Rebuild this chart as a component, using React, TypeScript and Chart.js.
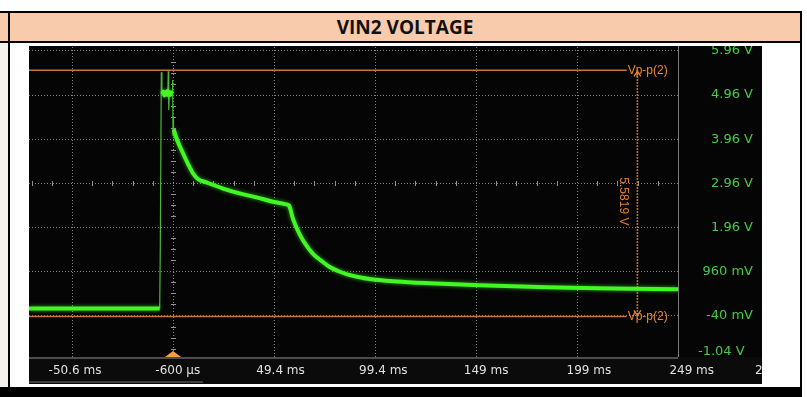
import React, { useEffect, useRef } from 'react';
import { Chart, registerables } from 'chart.js';

Chart.register(...registerables);

// ---- axis ranges (time in ms, voltage in V) ----
const X_MIN = -71.9;
const X_MAX = 249.4;
const Y_MIN = -0.981;
const Y_MAX = 6.05;
const X_LABEL_MIN = -72.98;
const X_LABEL_MAX = 242.73;
const Y_LABEL_SHIFT = 0.172;

const xGridValues = [-50.6, -0.6, 49.4, 99.4, 149.4, 199.4];
const xTickValues = [-50.6, -0.6, 49.4, 99.4, 149.4, 199.4, 249.4];
const xTickLabels = ['-50.6 ms', '-600 µs', '49.4 ms', '99.4 ms', '149 ms', '199 ms', '249 ms'];
const nextTickLabel = '299 ms';
const yGridValues = [5.96, 4.96, 3.96, 2.96, 1.96, 0.96, -0.04];
const yGridLabels = ['5.96 V', '4.96 V', '3.96 V', '2.96 V', '1.96 V', '960 mV', '-40 mV'];
const yEdgeValues = [-1.04];
const yEdgeLabels = ['-1.04 V'];
const centerTime = -0.6;
const centerVolt = 2.96;
const triggerTime = -0.6;

// ---- main (thick) trace, null = break ----
const traceTimes = [
  -71.9, -7.2, -7.2,
  -5.9, -5.4, -4.9, -4.4, -3.9, -3.4, -2.9, -2.4, -1.9, -1.4, -0.9, -0.9,
  -0.25, 1.1, 4.35, 6.8, 9.3, 11.8, 15.9, 24.2, 32.4, 40.7, 48.9, 55.5, 56.9,
  58.8, 62.1, 65.4, 68.7, 72.9, 77.0, 81.1, 85.2, 93.5, 100.1, 110, 126.5,
  151.2, 184.3, 217.2, 249.4,
];
const traceVolts = [
  0.12, 0.12, null,
  4.98, 5.04, 4.95, 5.03, 4.97, 5.05, 4.96, 5.03, 4.96, 5.02, 4.99, null,
  4.18, 3.98, 3.64, 3.4, 3.185, 3.055, 2.98, 2.84, 2.73, 2.64, 2.54, 2.48, 2.45,
  2.15, 1.8, 1.55, 1.36, 1.2, 1.06, 0.97, 0.9, 0.81, 0.77, 0.73, 0.69,
  0.645, 0.6, 0.575, 0.555,
];

// ---- thin fast edges ----
const edgeTimes = [-7.2, -6.9, -6.4, -6.1, -6.1, -3.2, -2.95, -2.7, -2.4, -2.4, -1.0, -0.8, -0.6, -0.45, -0.25];
const edgeVolts = [0.12, 1.5, 5.48, 5.0, null, 5.0, 5.5, 4.62, 5.0, null, 5.0, 5.3, 4.05, 4.45, 4.18];

// ---- cursors ----
const cursorHigh = 5.52;
const cursorLow = -0.06;
const cursorTime = 229.3;
const cursorLineEnd = 224;
const cursorLabel = 'Vp-p(2)';
const cursorValue = '5.5819 V';

const GRID = '#808080';
const ORANGE = '#c4743c';

const pts = (xs: number[], ys: (number | null)[]) => xs.map((x, i) => ({ x, y: ys[i] }));

const noPad = (s: any) => {
  s.paddingTop = 0;
  s.paddingBottom = 0;
  s.paddingLeft = 0;
  s.paddingRight = 0;
};

const scopePlugin = {
  id: 'scopeDecor',
  beforeDraw(chart: any) {
    const { ctx, width, height, chartArea: a } = chart;
    ctx.save();
    ctx.fillStyle = '#050505';
    ctx.fillRect(0, 0, width, height);
    ctx.fillStyle = '#0b0b0b';
    ctx.fillRect(0, a.bottom, width, height - a.bottom);
    ctx.restore();
  },
  beforeDatasetsDraw(chart: any) {
    const { ctx, chartArea: a, scales } = chart;
    const xs = scales.x;
    const ys = scales.y;
    ctx.save();
    ctx.strokeStyle = '#909090';
    ctx.lineWidth = 1;
    const cy = Math.round(ys.getPixelForValue(centerVolt)) + 0.5;
    const cx = Math.round(xs.getPixelForValue(centerTime)) + 0.5;
    ctx.beginPath();
    for (let k = -3; k <= 32; k++) {
      if (k % 5 === 0) continue;
      const px = Math.round(xs.getPixelForValue(xGridValues[0] + k * 10)) + 0.5;
      if (px < a.left || px > a.right) continue;
      ctx.moveTo(px, cy - 2.5);
      ctx.lineTo(px, cy + 2.5);
    }
    for (let k = -2; k <= 30; k++) {
      if (k % 4 === 0) continue;
      const py = Math.round(ys.getPixelForValue(yGridValues[0] - k * 0.25)) + 0.5;
      if (py < a.top || py > a.bottom) continue;
      ctx.moveTo(cx - 2.5, py);
      ctx.lineTo(cx + 2.5, py);
    }
    ctx.stroke();
    // frame
    ctx.strokeStyle = '#7a7a7a';
    ctx.beginPath();
    ctx.moveTo(a.right + 0.5, 0);
    ctx.lineTo(a.right + 0.5, a.bottom);
    ctx.stroke();
    ctx.strokeStyle = '#4c4c4c';
    ctx.lineWidth = 2;
    ctx.beginPath();
    ctx.moveTo(0, a.bottom + 1);
    ctx.lineTo(a.right, a.bottom + 1);
    ctx.stroke();
    // trigger marker
    const tx = xs.getPixelForValue(triggerTime);
    ctx.fillStyle = '#f4a236';
    ctx.beginPath();
    ctx.moveTo(tx - 8, a.bottom);
    ctx.lineTo(tx + 8, a.bottom);
    ctx.lineTo(tx, a.bottom - 6);
    ctx.closePath();
    ctx.fill();
    // scroll bar
    ctx.fillStyle = '#3e3e3e';
    ctx.fillRect(0, chart.height - 3, 174, 2);
    ctx.restore();
  },
  beforeDatasetDraw(chart: any, args: any) {
    if (args.index === 0) {
      chart.ctx.save();
      chart.ctx.shadowColor = 'rgba(70,255,40,0.6)';
      chart.ctx.shadowBlur = 4;
    }
  },
  afterDatasetDraw(chart: any, args: any) {
    if (args.index === 0) chart.ctx.restore();
  },
  afterDatasetsDraw(chart: any) {
    const { ctx, chartArea: a, scales } = chart;
    const xs = scales.x;
    const ys = scales.y;
    const hy = ys.getPixelForValue(cursorHigh);
    const ly = ys.getPixelForValue(cursorLow);
    const vx = xs.getPixelForValue(cursorTime);
    const lx = xs.getPixelForValue(cursorLineEnd);
    ctx.save();
    ctx.fillStyle = '#ec8a2e';
    ctx.font = '12px "Liberation Sans"';
    ctx.textAlign = 'left';
    ctx.textBaseline = 'middle';
    ctx.fillText(cursorLabel, lx + 1, hy);
    ctx.fillText(cursorLabel, lx + 1, ly);
    ctx.strokeStyle = '#ec8a2e';
    ctx.lineWidth = 1.2;
    ctx.beginPath();
    ctx.moveTo(vx - 3.5, ly - 6);
    ctx.lineTo(vx, ly - 1);
    ctx.lineTo(vx + 3.5, ly - 6);
    ctx.moveTo(vx - 3.5, hy + 6);
    ctx.lineTo(vx, hy + 1);
    ctx.lineTo(vx + 3.5, hy + 6);
    ctx.stroke();
    // partial next time label at right edge
    ctx.fillStyle = '#e0e0e0';
    ctx.font = '12px "DejaVu Sans"';
    ctx.fillText(nextTickLabel, a.right + 77, a.bottom + 14);
    // rotated cursor value
    ctx.translate(vx - 14.5, (hy + ly) / 2 + 8);
    ctx.rotate(Math.PI / 2);
    ctx.textAlign = 'center';
    ctx.font = '12px "Liberation Sans"';
    ctx.fillStyle = '#e47f2c';
    ctx.fillText(cursorValue, 0, 0);
    ctx.restore();
  },
};

export default function App() {
  const ref = useRef<HTMLCanvasElement>(null);

  useEffect(() => {
    const canvas = ref.current;
    if (!canvas) return;
    const labelFont = { family: 'DejaVu Sans', size: 13 };
    const chart = new Chart(canvas, {
      type: 'line',
      data: {
        datasets: [
          {
            label: 'VIN2',
            data: pts(traceTimes, traceVolts),
            borderColor: '#42f724',
            borderWidth: 4,
            pointRadius: 0,
            cubicInterpolationMode: 'monotone',
            spanGaps: false,
          },
          {
            label: 'edge',
            data: pts(edgeTimes, edgeVolts),
            borderColor: '#4cb83a',
            borderWidth: 1.2,
            pointRadius: 0,
            tension: 0,
            spanGaps: false,
          },
          {
            label: 'cursor high',
            data: pts([X_MIN, cursorLineEnd], [cursorHigh, cursorHigh]),
            borderColor: ORANGE,
            borderWidth: 1.5,
            pointRadius: 0,
          },
          {
            label: 'cursor low',
            data: pts([X_MIN, cursorLineEnd], [cursorLow, cursorLow]),
            borderColor: ORANGE,
            borderWidth: 1.5,
            pointRadius: 0,
          },
          {
            label: 'cursor vertical',
            data: pts([cursorTime, cursorTime], [cursorHigh, cursorLow]),
            borderColor: '#e8903f',
            borderWidth: 1.6,
            borderDash: [1.5, 1.5],
            pointRadius: 0,
          },
        ],
      } as any,
      options: {
        responsive: false,
        animation: false,
        events: [],
        layout: { padding: { top: 1, right: 9, bottom: 0, left: 0 } },
        plugins: { legend: { display: false }, tooltip: { enabled: false } },
        scales: {
          x: {
            type: 'linear',
            position: 'bottom',
            min: X_MIN,
            max: X_MAX,
            afterBuildTicks: (s: any) => {
              s.ticks = xGridValues.map((v) => ({ value: v }));
            },
            afterFit: (s: any) => {
              s.height = 0;
              noPad(s);
            },
            ticks: { display: false },
            grid: { color: GRID, lineWidth: 1, drawTicks: false },
            border: { display: false, dash: [1, 2] },
          },
          x2: {
            type: 'linear',
            position: 'bottom',
            min: X_LABEL_MIN,
            max: X_LABEL_MAX,
            afterBuildTicks: (s: any) => {
              s.ticks = xTickValues.map((v) => ({ value: v }));
            },
            afterFit: (s: any) => {
              s.height = 27;
              noPad(s);
            },
            grid: { display: false, drawTicks: false },
            border: { display: false },
            ticks: {
              autoSkip: false,
              maxRotation: 0,
              padding: 7,
              color: '#e0e0e0',
              font: { family: 'DejaVu Sans', size: 12 },
              callback: (_v: any, i: number) => xTickLabels[i],
            },
          },
          y: {
            type: 'linear',
            position: 'right',
            weight: 0,
            min: Y_MIN,
            max: Y_MAX,
            afterBuildTicks: (s: any) => {
              s.ticks = yGridValues.map((v) => ({ value: v }));
            },
            afterFit: (s: any) => {
              s.width = 75;
              noPad(s);
            },
            grid: { color: GRID, lineWidth: 1, drawTicks: false },
            border: { display: false, dash: [1, 2] },
            ticks: {
              autoSkip: false,
              crossAlign: 'far',
              padding: 0,
              color: '#44cc44',
              font: labelFont,
              callback: (_v: any, i: number) => yGridLabels[i],
            },
          },
          y2: {
            type: 'linear',
            position: 'left',
            min: Y_MIN - Y_LABEL_SHIFT,
            max: Y_MAX - Y_LABEL_SHIFT,
            afterBuildTicks: (s: any) => {
              s.ticks = yEdgeValues.map((v) => ({ value: v }));
            },
            afterFit: (s: any) => {
              s.width = 0;
              noPad(s);
            },
            grid: { display: false, drawTicks: false },
            border: { display: false },
            ticks: {
              autoSkip: false,
              mirror: true,
              crossAlign: 'near',
              padding: 669,
              color: '#44cc44',
              font: labelFont,
              callback: (_v: any, i: number) => yEdgeLabels[i],
            },
          },
        },
      } as any,
      plugins: [scopePlugin as any],
    });
    return () => chart.destroy();
  }, []);

  return (
    <div
      style={{
        position: 'fixed',
        left: 0,
        top: 0,
        width: 807,
        height: 397,
        background: '#ffffff',
        overflow: 'hidden',
      }}
    >
      <div
        style={{
          position: 'absolute',
          left: 0,
          top: 11,
          width: 802,
          height: 32,
          boxSizing: 'border-box',
          background: '#F8CBAD',
          borderTop: '2px solid #000',
          borderBottom: '2px solid #000',
        }}
      />
      <div
        style={{
          position: 'absolute',
          left: 10,
          top: 13,
          width: 790,
          height: 28,
          display: 'flex',
          alignItems: 'center',
          justifyContent: 'center',
          fontFamily: '"Open Sans", sans-serif',
          fontWeight: 700,
          fontSize: 19,
          color: '#111',
        }}
      >
        VIN2 VOLTAGE
      </div>
      <div style={{ position: 'absolute', left: 0, top: 43, width: 8, height: 344, background: '#f2f1ed' }} />
      <div style={{ position: 'absolute', left: 8, top: 11, width: 2, height: 386, background: '#000' }} />
      <div style={{ position: 'absolute', left: 800, top: 11, width: 2, height: 386, background: '#000' }} />
      <div style={{ position: 'absolute', left: 0, top: 387, width: 802, height: 10, background: '#000' }} />
      <canvas
        ref={ref}
        width={733}
        height={338}
        style={{ position: 'absolute', left: 29, top: 46, width: 733, height: 338, display: 'block' }}
      />
    </div>
  );
}
